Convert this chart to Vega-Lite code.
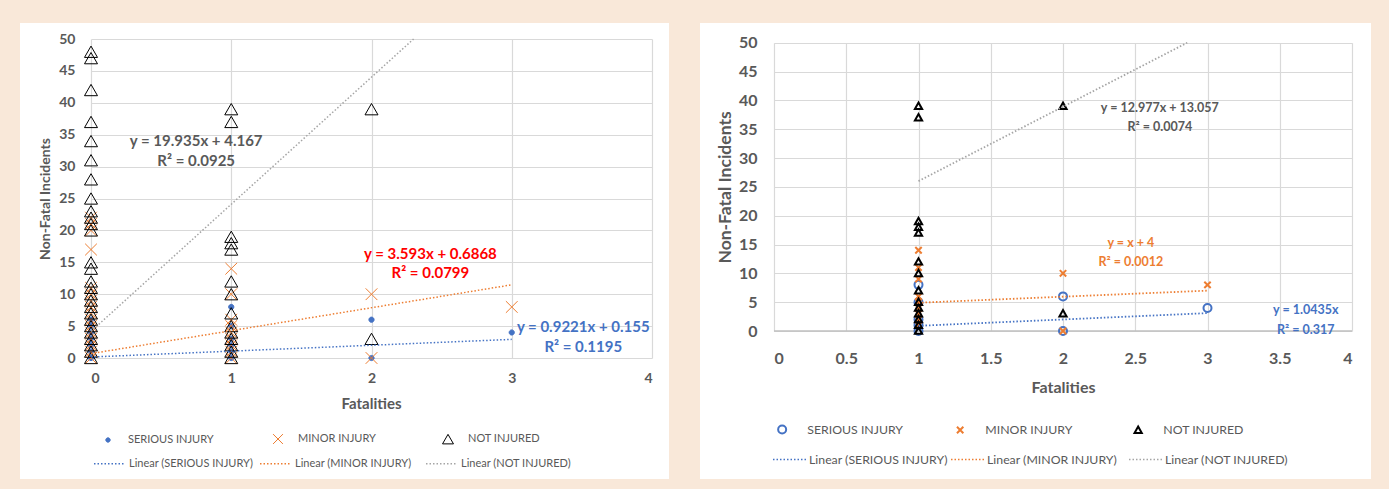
{
  "$schema": "https://vega.github.io/schema/vega-lite/v6.json",
  "background": "#f9e8d9",
  "padding": {"left": 20, "top": 23, "right": 18, "bottom": 10},
  "spacing": 31,
  "config": {"view": {"fill": "white", "stroke": null}},
  "resolve": {
    "scale": {"color": "independent", "fill": "independent", "shape": "independent", "stroke": "independent"},
    "legend": {"color": "independent", "fill": "independent", "shape": "independent", "stroke": "independent"}
  },
  "datasets": {
    "ptsL": [
      {"series": "SERIOUS INJURY", "fatalities": 0, "incidents": 0},
      {"series": "SERIOUS INJURY", "fatalities": 0, "incidents": 1},
      {"series": "SERIOUS INJURY", "fatalities": 0, "incidents": 2},
      {"series": "SERIOUS INJURY", "fatalities": 0, "incidents": 3},
      {"series": "SERIOUS INJURY", "fatalities": 0, "incidents": 4},
      {"series": "SERIOUS INJURY", "fatalities": 0, "incidents": 5},
      {"series": "SERIOUS INJURY", "fatalities": 0, "incidents": 6},
      {"series": "SERIOUS INJURY", "fatalities": 1, "incidents": 0},
      {"series": "SERIOUS INJURY", "fatalities": 1, "incidents": 1},
      {"series": "SERIOUS INJURY", "fatalities": 1, "incidents": 2},
      {"series": "SERIOUS INJURY", "fatalities": 1, "incidents": 3},
      {"series": "SERIOUS INJURY", "fatalities": 1, "incidents": 5},
      {"series": "SERIOUS INJURY", "fatalities": 1, "incidents": 8},
      {"series": "SERIOUS INJURY", "fatalities": 2, "incidents": 0},
      {"series": "SERIOUS INJURY", "fatalities": 2, "incidents": 6},
      {"series": "SERIOUS INJURY", "fatalities": 3, "incidents": 4},
      {"series": "MINOR INJURY", "fatalities": 0, "incidents": 0},
      {"series": "MINOR INJURY", "fatalities": 0, "incidents": 1},
      {"series": "MINOR INJURY", "fatalities": 0, "incidents": 2},
      {"series": "MINOR INJURY", "fatalities": 0, "incidents": 3},
      {"series": "MINOR INJURY", "fatalities": 0, "incidents": 4},
      {"series": "MINOR INJURY", "fatalities": 0, "incidents": 5},
      {"series": "MINOR INJURY", "fatalities": 0, "incidents": 6},
      {"series": "MINOR INJURY", "fatalities": 0, "incidents": 7},
      {"series": "MINOR INJURY", "fatalities": 0, "incidents": 8},
      {"series": "MINOR INJURY", "fatalities": 0, "incidents": 9},
      {"series": "MINOR INJURY", "fatalities": 0, "incidents": 10},
      {"series": "MINOR INJURY", "fatalities": 0, "incidents": 11},
      {"series": "MINOR INJURY", "fatalities": 0, "incidents": 17},
      {"series": "MINOR INJURY", "fatalities": 0, "incidents": 20},
      {"series": "MINOR INJURY", "fatalities": 0, "incidents": 21},
      {"series": "MINOR INJURY", "fatalities": 0, "incidents": 22},
      {"series": "MINOR INJURY", "fatalities": 1, "incidents": 0},
      {"series": "MINOR INJURY", "fatalities": 1, "incidents": 1},
      {"series": "MINOR INJURY", "fatalities": 1, "incidents": 2},
      {"series": "MINOR INJURY", "fatalities": 1, "incidents": 3},
      {"series": "MINOR INJURY", "fatalities": 1, "incidents": 4},
      {"series": "MINOR INJURY", "fatalities": 1, "incidents": 5},
      {"series": "MINOR INJURY", "fatalities": 1, "incidents": 6},
      {"series": "MINOR INJURY", "fatalities": 1, "incidents": 10},
      {"series": "MINOR INJURY", "fatalities": 1, "incidents": 14},
      {"series": "MINOR INJURY", "fatalities": 2, "incidents": 0},
      {"series": "MINOR INJURY", "fatalities": 2, "incidents": 10},
      {"series": "MINOR INJURY", "fatalities": 3, "incidents": 8},
      {"series": "NOT INJURED", "fatalities": 0, "incidents": 0},
      {"series": "NOT INJURED", "fatalities": 0, "incidents": 1},
      {"series": "NOT INJURED", "fatalities": 0, "incidents": 2},
      {"series": "NOT INJURED", "fatalities": 0, "incidents": 3},
      {"series": "NOT INJURED", "fatalities": 0, "incidents": 4},
      {"series": "NOT INJURED", "fatalities": 0, "incidents": 5},
      {"series": "NOT INJURED", "fatalities": 0, "incidents": 6},
      {"series": "NOT INJURED", "fatalities": 0, "incidents": 7},
      {"series": "NOT INJURED", "fatalities": 0, "incidents": 8},
      {"series": "NOT INJURED", "fatalities": 0, "incidents": 9},
      {"series": "NOT INJURED", "fatalities": 0, "incidents": 10},
      {"series": "NOT INJURED", "fatalities": 0, "incidents": 11},
      {"series": "NOT INJURED", "fatalities": 0, "incidents": 12},
      {"series": "NOT INJURED", "fatalities": 0, "incidents": 14},
      {"series": "NOT INJURED", "fatalities": 0, "incidents": 15},
      {"series": "NOT INJURED", "fatalities": 0, "incidents": 20},
      {"series": "NOT INJURED", "fatalities": 0, "incidents": 21},
      {"series": "NOT INJURED", "fatalities": 0, "incidents": 22},
      {"series": "NOT INJURED", "fatalities": 0, "incidents": 23},
      {"series": "NOT INJURED", "fatalities": 0, "incidents": 25},
      {"series": "NOT INJURED", "fatalities": 0, "incidents": 28},
      {"series": "NOT INJURED", "fatalities": 0, "incidents": 31},
      {"series": "NOT INJURED", "fatalities": 0, "incidents": 34},
      {"series": "NOT INJURED", "fatalities": 0, "incidents": 37},
      {"series": "NOT INJURED", "fatalities": 0, "incidents": 42},
      {"series": "NOT INJURED", "fatalities": 0, "incidents": 47},
      {"series": "NOT INJURED", "fatalities": 0, "incidents": 48},
      {"series": "NOT INJURED", "fatalities": 1, "incidents": 0},
      {"series": "NOT INJURED", "fatalities": 1, "incidents": 1},
      {"series": "NOT INJURED", "fatalities": 1, "incidents": 2},
      {"series": "NOT INJURED", "fatalities": 1, "incidents": 3},
      {"series": "NOT INJURED", "fatalities": 1, "incidents": 4},
      {"series": "NOT INJURED", "fatalities": 1, "incidents": 5},
      {"series": "NOT INJURED", "fatalities": 1, "incidents": 7},
      {"series": "NOT INJURED", "fatalities": 1, "incidents": 10},
      {"series": "NOT INJURED", "fatalities": 1, "incidents": 12},
      {"series": "NOT INJURED", "fatalities": 1, "incidents": 17},
      {"series": "NOT INJURED", "fatalities": 1, "incidents": 18},
      {"series": "NOT INJURED", "fatalities": 1, "incidents": 19},
      {"series": "NOT INJURED", "fatalities": 1, "incidents": 37},
      {"series": "NOT INJURED", "fatalities": 1, "incidents": 39},
      {"series": "NOT INJURED", "fatalities": 2, "incidents": 3},
      {"series": "NOT INJURED", "fatalities": 2, "incidents": 39}
    ],
    "ptsR": [
      {"series": "SERIOUS INJURY", "fatalities": 1, "incidents": 0},
      {"series": "SERIOUS INJURY", "fatalities": 1, "incidents": 1},
      {"series": "SERIOUS INJURY", "fatalities": 1, "incidents": 2},
      {"series": "SERIOUS INJURY", "fatalities": 1, "incidents": 5},
      {"series": "SERIOUS INJURY", "fatalities": 1, "incidents": 8},
      {"series": "SERIOUS INJURY", "fatalities": 2, "incidents": 0},
      {"series": "SERIOUS INJURY", "fatalities": 2, "incidents": 6},
      {"series": "SERIOUS INJURY", "fatalities": 3, "incidents": 4},
      {"series": "MINOR INJURY", "fatalities": 1, "incidents": 1},
      {"series": "MINOR INJURY", "fatalities": 1, "incidents": 2},
      {"series": "MINOR INJURY", "fatalities": 1, "incidents": 3},
      {"series": "MINOR INJURY", "fatalities": 1, "incidents": 4},
      {"series": "MINOR INJURY", "fatalities": 1, "incidents": 5},
      {"series": "MINOR INJURY", "fatalities": 1, "incidents": 6},
      {"series": "MINOR INJURY", "fatalities": 1, "incidents": 9},
      {"series": "MINOR INJURY", "fatalities": 1, "incidents": 11},
      {"series": "MINOR INJURY", "fatalities": 1, "incidents": 14},
      {"series": "MINOR INJURY", "fatalities": 2, "incidents": 0},
      {"series": "MINOR INJURY", "fatalities": 2, "incidents": 10},
      {"series": "MINOR INJURY", "fatalities": 3, "incidents": 8},
      {"series": "NOT INJURED", "fatalities": 1, "incidents": 0},
      {"series": "NOT INJURED", "fatalities": 1, "incidents": 1},
      {"series": "NOT INJURED", "fatalities": 1, "incidents": 2},
      {"series": "NOT INJURED", "fatalities": 1, "incidents": 3},
      {"series": "NOT INJURED", "fatalities": 1, "incidents": 4},
      {"series": "NOT INJURED", "fatalities": 1, "incidents": 5},
      {"series": "NOT INJURED", "fatalities": 1, "incidents": 7},
      {"series": "NOT INJURED", "fatalities": 1, "incidents": 10},
      {"series": "NOT INJURED", "fatalities": 1, "incidents": 12},
      {"series": "NOT INJURED", "fatalities": 1, "incidents": 17},
      {"series": "NOT INJURED", "fatalities": 1, "incidents": 18},
      {"series": "NOT INJURED", "fatalities": 1, "incidents": 19},
      {"series": "NOT INJURED", "fatalities": 1, "incidents": 37},
      {"series": "NOT INJURED", "fatalities": 1, "incidents": 39},
      {"series": "NOT INJURED", "fatalities": 2, "incidents": 3},
      {"series": "NOT INJURED", "fatalities": 2, "incidents": 39}
    ],
    "trendL": [
      {"trend": "Linear (SERIOUS INJURY)", "fatalities": 0, "incidents": 0.155},
      {"trend": "Linear (SERIOUS INJURY)", "fatalities": 3, "incidents": 2.92},
      {"trend": "Linear (MINOR INJURY)", "fatalities": 0, "incidents": 0.69},
      {"trend": "Linear (MINOR INJURY)", "fatalities": 3, "incidents": 11.47},
      {"trend": "Linear (NOT INJURED)", "fatalities": 0, "incidents": 4.17},
      {"trend": "Linear (NOT INJURED)", "fatalities": 2.3, "incidents": 50}
    ],
    "trendR": [
      {"trend": "Linear (SERIOUS INJURY)", "fatalities": 1, "incidents": 0.9},
      {"trend": "Linear (SERIOUS INJURY)", "fatalities": 3, "incidents": 3.1},
      {"trend": "Linear (MINOR INJURY)", "fatalities": 1, "incidents": 4.9},
      {"trend": "Linear (MINOR INJURY)", "fatalities": 3, "incidents": 7.0},
      {"trend": "Linear (NOT INJURED)", "fatalities": 1, "incidents": 26.0},
      {"trend": "Linear (NOT INJURED)", "fatalities": 2.86, "incidents": 50}
    ],
    "eqL": [
      {"series": "NOT INJURED", "label": "y = 19.935x + 4.167", "fatalities": 0.75, "incidents": 34.0},
      {"series": "NOT INJURED", "label": "R² = 0.0925", "fatalities": 0.75, "incidents": 30.9},
      {"series": "MINOR INJURY", "label": "y = 3.593x + 0.6868", "fatalities": 2.42, "incidents": 16.3},
      {"series": "MINOR INJURY", "label": "R² = 0.0799", "fatalities": 2.42, "incidents": 13.3},
      {"series": "SERIOUS INJURY", "label": "y = 0.9221x + 0.155", "fatalities": 3.51, "incidents": 4.86},
      {"series": "SERIOUS INJURY", "label": "R² = 0.1195", "fatalities": 3.51, "incidents": 1.72}
    ],
    "eqR": [
      {"series": "NOT INJURED", "label": "y = 12.977x + 13.057", "fatalities": 2.67, "incidents": 38.6},
      {"series": "NOT INJURED", "label": "R² = 0.0074", "fatalities": 2.67, "incidents": 35.4},
      {"series": "MINOR INJURY", "label": "y = x + 4", "fatalities": 2.47, "incidents": 15.25},
      {"series": "MINOR INJURY", "label": "R² = 0.0012", "fatalities": 2.47, "incidents": 11.96},
      {"series": "SERIOUS INJURY", "label": "y = 1.0435x", "fatalities": 3.68, "incidents": 3.64},
      {"series": "SERIOUS INJURY", "label": "R² = 0.317", "fatalities": 3.68, "incidents": 0.17}
    ],
    "baseR": [
      {"fatalities": 0, "incidents": 0},
      {"fatalities": 4, "incidents": 0}
    ]
  },
  "hconcat": [
    {
      "width": 649,
      "height": 456,
      "encoding": {
        "x": {"field": "fatalities", "type": "quantitative",
          "scale": {"domain": [0, 4], "range": [71, 632], "nice": false, "zero": false},
          "axis": {"orient": "top", "values": [0, 1, 2, 3, 4], "domain": false, "ticks": false, "grid": true, "gridColor": "#d9d9d9", "gridWidth": 1.2,
            "labelFont": "Lato", "labelFontSize": 14, "labelFontWeight": "bold", "labelColor": "#595959", "labelBaseline": "middle", "labelPadding": -355,
            "title": "Fatalities", "titleFont": "Lato", "titleFontSize": 15, "titleFontWeight": "bold", "titleColor": "#595959",
            "titleX": 351, "titleY": 380, "titleAlign": "center", "titleBaseline": "middle"}},
        "y": {"field": "incidents", "type": "quantitative",
          "scale": {"domain": [0, 50], "range": [335, 16], "nice": false, "zero": false},
          "axis": {"values": [0, 5, 10, 15, 20, 25, 30, 35, 40, 45, 50], "offset": -71, "domain": false, "ticks": false, "grid": true, "gridColor": "#d9d9d9", "gridWidth": 1.2,
            "labelFont": "Lato", "labelFontSize": 14, "labelFontWeight": "bold", "labelColor": "#595959", "labelPadding": 16,
            "title": "Non-Fatal Incidents", "titleFont": "Lato", "titleFontSize": 14, "titleFontWeight": "bold", "titleColor": "#595959",
            "titleX": -46, "titleY": 175.5, "titleAngle": -90, "titleAlign": "center", "titleBaseline": "middle"}}
      },
      "layer": [
        {
          "data": {"name": "ptsL"},
          "mark": {"type": "point", "filled": false, "strokeWidth": 1, "size": 169, "opacity": 1},
          "encoding": {
            "color": {"field": "series", "type": "nominal",
              "scale": {"domain": ["SERIOUS INJURY", "MINOR INJURY", "NOT INJURED"], "range": ["#4472C4", "#ED7D31", "#000000"]},
              "legend": {"orient": "none", "legendX": 82, "legendY": 410, "direction": "horizontal", "title": null, "padding": 0, "gridAlign": "all", "columnPadding": 56, "labelOffset": 14, "labelFont": "Lato", "labelFontSize": 11, "labelColor": "#595959", "symbolSize": 120, "symbolStrokeWidth": 1}},
            "fill": {"field": "series", "type": "nominal",
              "scale": {"domain": ["SERIOUS INJURY", "MINOR INJURY", "NOT INJURED"], "range": ["#4472C4", "transparent", "transparent"]},
              "legend": {"orient": "none", "legendX": 82, "legendY": 410, "direction": "horizontal", "title": null, "padding": 0, "gridAlign": "all", "columnPadding": 56, "labelOffset": 14, "labelFont": "Lato", "labelFontSize": 11, "labelColor": "#595959", "symbolSize": 120, "symbolStrokeWidth": 1}},
            "shape": {"field": "series", "type": "nominal",
              "scale": {"domain": ["SERIOUS INJURY", "MINOR INJURY", "NOT INJURED"], "range": ["M-0.4,0A0.4,0.4,0,1,1,0.4,0A0.4,0.4,0,1,1,-0.4,0Z", "M-0.9,-0.9L0.9,0.9M-0.9,0.9L0.9,-0.9", "M0,-0.87L1,0.87L-1,0.87Z"]},
              "legend": {"orient": "none", "legendX": 82, "legendY": 410, "direction": "horizontal", "title": null, "padding": 0, "gridAlign": "all", "columnPadding": 56, "labelOffset": 14, "labelFont": "Lato", "labelFontSize": 11, "labelColor": "#595959", "symbolSize": 120, "symbolStrokeWidth": 1}}
          }
        },
        {
          "data": {"name": "trendL"},
          "mark": {"type": "line", "strokeDash": [1.5, 2], "strokeWidth": 1.5},
          "encoding": {
            "stroke": {"field": "trend", "type": "nominal",
              "scale": {"domain": ["Linear (SERIOUS INJURY)", "Linear (MINOR INJURY)", "Linear (NOT INJURED)"], "range": ["#4472C4", "#ED7D31", "#A5A5A5"]},
              "legend": {"orient": "none", "legendX": 73, "legendY": 424, "direction": "horizontal", "title": null, "padding": 0, "gridAlign": "all", "columnPadding": 3, "labelOffset": 3, "labelFont": "Lato", "labelFontSize": 11, "labelColor": "#595959", "symbolType": "stroke", "symbolSize": 961, "symbolStrokeWidth": 1.5, "symbolDash": [1.5, 2]}}
          }
        },
        {
          "data": {"name": "eqL"},
          "transform": [{"filter": "datum.series === 'NOT INJURED'"}],
          "mark": {"type": "text", "font": "Lato", "fontSize": 15, "fontWeight": "bold", "color": "#595959", "baseline": "middle", "align": "center"},
          "encoding": {"text": {"field": "label"}}
        },
        {
          "data": {"name": "eqL"},
          "transform": [{"filter": "datum.series === 'MINOR INJURY'"}],
          "mark": {"type": "text", "font": "Lato", "fontSize": 15, "fontWeight": "bold", "color": "#FF0000", "baseline": "middle", "align": "center"},
          "encoding": {"text": {"field": "label"}}
        },
        {
          "data": {"name": "eqL"},
          "transform": [{"filter": "datum.series === 'SERIOUS INJURY'"}],
          "mark": {"type": "text", "font": "Lato", "fontSize": 15, "fontWeight": "bold", "color": "#4472C4", "baseline": "middle", "align": "center"},
          "encoding": {"text": {"field": "label"}}
        }
      ]
    },
    {
      "width": 671,
      "height": 456,
      "encoding": {
        "x": {"field": "fatalities", "type": "quantitative",
          "scale": {"domain": [0, 4], "range": [74, 652], "nice": false, "zero": false},
          "axis": {"orient": "top", "values": [0, 0.5, 1, 1.5, 2, 2.5, 3, 3.5, 4], "format": "~g", "domain": false, "ticks": false, "grid": true, "gridColor": "#d9d9d9", "gridWidth": 1.2,
            "labelFont": "Lato", "labelFontSize": 16, "labelFontWeight": "bold", "labelColor": "#595959", "labelBaseline": "middle", "labelPadding": -335,
            "title": "Fatalities", "titleFont": "Lato", "titleFontSize": 16, "titleFontWeight": "bold", "titleColor": "#595959",
            "titleX": 363, "titleY": 364, "titleAlign": "center", "titleBaseline": "middle"}},
        "y": {"field": "incidents", "type": "quantitative",
          "scale": {"domain": [0, 50], "range": [308, 19.7], "nice": false, "zero": false},
          "axis": {"values": [0, 5, 10, 15, 20, 25, 30, 35, 40, 45, 50], "offset": -74, "domain": false, "ticks": false, "grid": true, "gridColor": "#d9d9d9", "gridWidth": 1.2,
            "labelFont": "Lato", "labelFontSize": 16, "labelFontWeight": "bold", "labelColor": "#595959", "labelPadding": 17,
            "title": "Non-Fatal Incidents", "titleFont": "Lato", "titleFontSize": 17.5, "titleFontWeight": "bold", "titleColor": "#595959",
            "titleX": -49, "titleY": 164, "titleAngle": -90, "titleAlign": "center", "titleBaseline": "middle"}}
      },
      "layer": [
        {
          "data": {"name": "baseR"},
          "mark": {"type": "line", "color": "#bfbfbf", "strokeWidth": 1.5},
          "encoding": {}
        },
        {
          "data": {"name": "ptsR"},
          "mark": {"type": "point", "filled": false, "strokeWidth": 2, "size": 64, "opacity": 1},
          "encoding": {
            "color": {"field": "series", "type": "nominal",
              "scale": {"domain": ["SERIOUS INJURY", "MINOR INJURY", "NOT INJURED"], "range": ["#4472C4", "#ED7D31", "#000000"]},
              "legend": {"orient": "none", "legendX": 76, "legendY": 400, "direction": "horizontal", "title": null, "padding": 0, "gridAlign": "all", "columnPadding": 48, "labelOffset": 19, "labelFont": "Lato", "labelFontSize": 12.3, "labelColor": "#595959", "symbolSize": 64, "symbolStrokeWidth": 2}},
            "shape": {"field": "series", "type": "nominal",
              "scale": {"domain": ["SERIOUS INJURY", "MINOR INJURY", "NOT INJURED"], "range": ["circle", "M-0.8,-0.8L0.8,0.8M-0.8,0.8L0.8,-0.8", "M0,-0.9L0.9,0.7L-0.9,0.7Z"]},
              "legend": {"orient": "none", "legendX": 76, "legendY": 400, "direction": "horizontal", "title": null, "padding": 0, "gridAlign": "all", "columnPadding": 48, "labelOffset": 19, "labelFont": "Lato", "labelFontSize": 12.3, "labelColor": "#595959", "symbolSize": 64, "symbolStrokeWidth": 2}}
          }
        },
        {
          "data": {"name": "trendR"},
          "mark": {"type": "line", "strokeDash": [1.5, 2], "strokeWidth": 1.8},
          "encoding": {
            "stroke": {"field": "trend", "type": "nominal",
              "scale": {"domain": ["Linear (SERIOUS INJURY)", "Linear (MINOR INJURY)", "Linear (NOT INJURED)"], "range": ["#4472C4", "#ED7D31", "#A5A5A5"]},
              "legend": {"orient": "none", "legendX": 72, "legendY": 419, "direction": "horizontal", "title": null, "padding": 0, "gridAlign": "all", "columnPadding": 0, "labelOffset": 2, "labelFont": "Lato", "labelFontSize": 12.3, "labelColor": "#595959", "symbolType": "stroke", "symbolSize": 1089, "symbolStrokeWidth": 1.5, "symbolDash": [1.5, 2]}}
          }
        },
        {
          "data": {"name": "eqR"},
          "transform": [{"filter": "datum.series === 'NOT INJURED'"}],
          "mark": {"type": "text", "font": "Lato", "fontSize": 12.5, "fontWeight": "bold", "color": "#595959", "baseline": "middle", "align": "center"},
          "encoding": {"text": {"field": "label"}}
        },
        {
          "data": {"name": "eqR"},
          "transform": [{"filter": "datum.series === 'MINOR INJURY'"}],
          "mark": {"type": "text", "font": "Lato", "fontSize": 12.5, "fontWeight": "bold", "color": "#ED7D31", "baseline": "middle", "align": "center"},
          "encoding": {"text": {"field": "label"}}
        },
        {
          "data": {"name": "eqR"},
          "transform": [{"filter": "datum.series === 'SERIOUS INJURY'"}],
          "mark": {"type": "text", "font": "Lato", "fontSize": 12.5, "fontWeight": "bold", "color": "#4472C4", "baseline": "middle", "align": "center"},
          "encoding": {"text": {"field": "label"}}
        }
      ]
    }
  ]
}
